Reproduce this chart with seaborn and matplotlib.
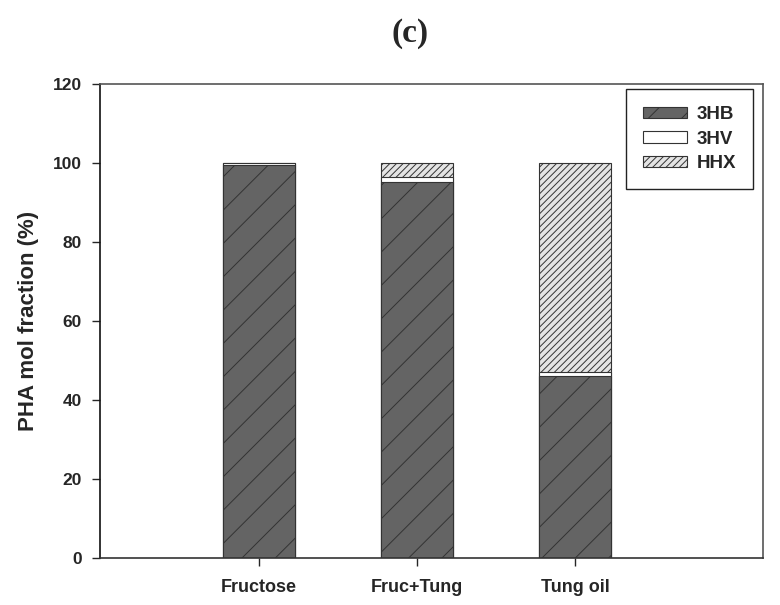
import numpy as np
import pandas as pd
import matplotlib
matplotlib.use('Agg')
import matplotlib.pyplot as plt
import seaborn as sns
from matplotlib.patches import Patch

#------------------------------------------------
l_sub=['Fructose', 'Fruc+Tung', 'Tung oil']
v_3hb=[99.4, 95.3, 46.0]
v_3hv=[0.6, 1.1, 1.0]
v_hhx=[0.0, 3.6, 53.0]
l_yt=[0, 20, 40, 60, 80, 100, 120]

f_out='out.png'

#########################################################
sns.set_style('ticks')
plt.rcParams['font.family']=['Liberation Sans', 'DejaVu Sans']
plt.rcParams['hatch.color']='black'
plt.rcParams['hatch.linewidth']=0.7

df=pd.DataFrame({'sub': l_sub, '3HB': v_3hb, '3HV': v_3hv, 'HHX': v_hhx})
df['c1']=df['3HB']
df['c2']=df['c1']+df['3HV']
df['c3']=df['c2']+df['HHX']

#style per component (top of stack drawn first)
d_sty={
    'HHX': ('c3', '#e4e4e4', '/////'),
    '3HV': ('c2', '#ffffff', ''),
    '3HB': ('c1', '#646464', '/'),
}

#------------------------------------------------
fig=plt.figure(figsize=(7.8, 6.05), dpi=100)
ax=fig.add_axes([0.1282, 0.0777, 0.85, 0.7835])

for k in ['HHX', '3HV', '3HB']:
    col, fc, ht=d_sty[k]
    sns.barplot(data=df, x='sub', y=col, color=fc, saturation=1, width=0.456,
                edgecolor='#333333', linewidth=0.8, hatch=ht, ax=ax)

#adjust
ax.set_xlim(-1.006, 3.19)
ax.set_ylim(0, 120)
ax.set_xticks(np.arange(len(l_sub)), l_sub)
ax.set_yticks(l_yt)
ax.tick_params(axis='x', length=6, width=1, direction='out', pad=9, labelsize=13)
ax.tick_params(axis='y', length=6, width=1, direction='out', pad=7, labelsize=12.5)
for t in ax.get_xticklabels()+ax.get_yticklabels():
    t.set_fontweight('bold')
ax.set_xlabel('')
ax.set_ylabel('PHA mol fraction (%)', fontsize=16, fontweight='bold', labelpad=10)
for s in ax.spines.values():
    s.set_visible(True)
    s.set_linewidth(1.2)
    s.set_color('#555555')
ax.spines['left'].set_color('#111111')
ax.spines['bottom'].set_color('#333333')

#legend
l_h=[Patch(facecolor=d_sty[k][1], hatch=d_sty[k][2], edgecolor='#333333', linewidth=0.8, label=k)
     for k in ['3HB', '3HV', 'HHX']]
leg=ax.legend(handles=l_h, loc='upper right', bbox_to_anchor=(0.985, 0.989), borderaxespad=0,
              frameon=True, fancybox=False, prop={'weight': 'bold', 'size': 13.5},
              handlelength=2.35, handleheight=0.55, borderpad=0.9, labelspacing=0.4,
              handletextpad=0.5)
leg.get_frame().set_edgecolor('#222222')
leg.get_frame().set_linewidth(1.0)
leg.get_frame().set_alpha(1)

fig.text(0.526, 0.944, '(c)', ha='center', va='center', fontsize=24, fontweight='bold',
         family=['Liberation Serif', 'DejaVu Serif'])

#save
plt.savefig(f_out, dpi=100)
plt.close()
